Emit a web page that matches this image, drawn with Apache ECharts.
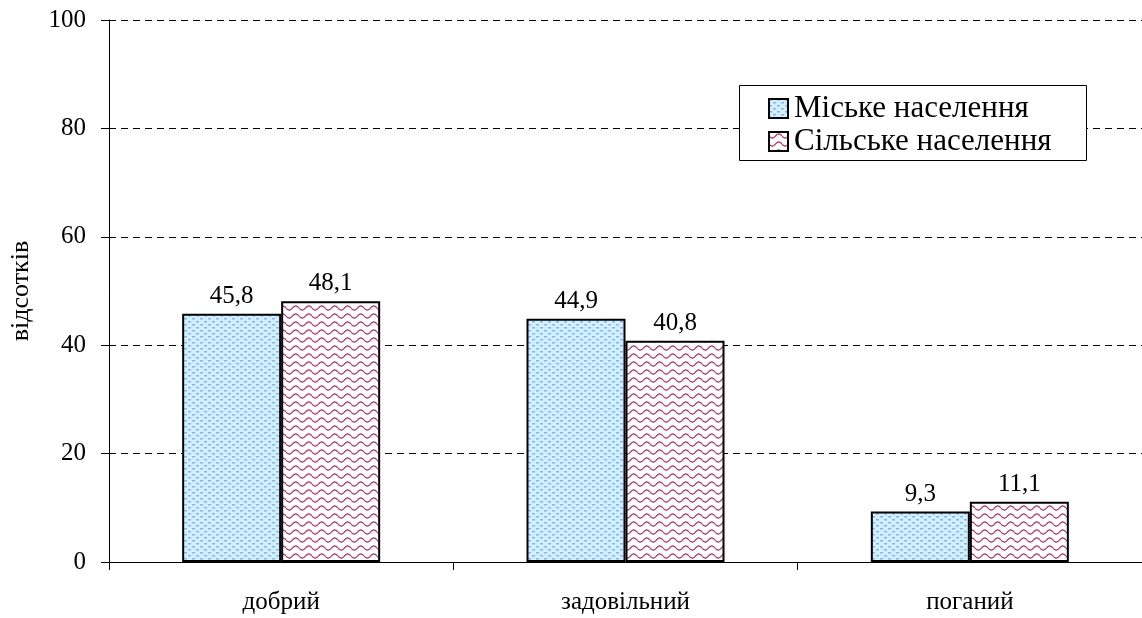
<!DOCTYPE html>
<html><head><meta charset="utf-8">
<script src="https://cdn.jsdelivr.net/npm/echarts@6/dist/echarts.min.js"></script>
<style>html,body{margin:0;padding:0;background:#fff}#c{width:1142px;height:618px}</style>
</head><body><div id="c"></div>
<script>
const categories = ['добрий', 'задовільний', 'поганий'];
const urbanValues = [45.8, 44.9, 9.3];
const ruralValues = [48.1, 40.8, 11.1];
const seriesNames = ['Міське населення', 'Сільське населення'];
const yTicks = [0, 20, 40, 60, 80, 100];

function dotPattern() {
  const c = document.createElement('canvas'); c.width = 8; c.height = 6;
  const g = c.getContext('2d');
  g.fillStyle = '#ccf2ff'; g.fillRect(0, 0, 8, 6);
  g.fillStyle = '#a0a8f0';
  g.fillRect(0, 0, 3, 1.5); g.fillRect(4, 3, 3, 1.5);
  return c;
}
function wavePattern() {
  const c = document.createElement('canvas'); c.width = 13; c.height = 8;
  const g = c.getContext('2d');
  g.fillStyle = '#ffffff'; g.fillRect(0, 0, 13, 8);
  g.strokeStyle = '#a84878'; g.lineWidth = 1.4;
  g.beginPath();
  for (let x = 0; x <= 13; x += 0.5) {
    const y = 4 + 2 * Math.sin(x / 13 * Math.PI * 2);
    if (x === 0) g.moveTo(x, y); else g.lineTo(x, y);
  }
  g.stroke();
  return c;
}
const fmt = v => String(v).replace('.', ',');
const chart = echarts.init(document.getElementById('c'));
const font = '"Liberation Serif", "Times New Roman", serif';
chart.setOption({
  animation: false,
  textStyle: { fontFamily: font },
  grid: { left: 108, right: 0, top: 20, bottom: 56, containLabel: false },
  graphic: [{
    type: 'rect', left: 739, top: 85, z: 10,
    shape: { width: 347, height: 75 },
    style: { fill: '#fff', stroke: '#000', lineWidth: 1 }
  }],
  legend: {
    orient: 'vertical', left: 739, top: 85, z: 20,
    padding: [8, 20, 8, 29], itemGap: 2,
    itemWidth: 19, itemHeight: 19, icon: 'rect',
    textStyle: { fontFamily: font, fontSize: 31, color: '#000', padding: [0, 0, 0, 1] },
    data: seriesNames
  },
  xAxis: {
    type: 'category', data: categories,
    axisLine: { lineStyle: { color: '#000', width: 1 } },
    axisTick: { show: true, alignWithLabel: false, length: 8, lineStyle: { color: '#000' } },
    axisLabel: { fontFamily: font, fontSize: 25, color: '#000', margin: 28 }
  },
  yAxis: {
    type: 'value', min: 0, max: 100, interval: 20,
    name: 'відсотків', nameLocation: 'middle', nameGap: 75, nameRotate: 90,
    nameTextStyle: { fontFamily: font, fontSize: 26, color: '#000' },
    axisLine: { show: true, lineStyle: { color: '#000' } },
    axisTick: { show: true, length: 8, lineStyle: { color: '#000' } },
    axisLabel: { fontFamily: font, fontSize: 25, color: '#000', margin: 23,
      formatter: v => yTicks.includes(v) ? String(v) : '' },
    splitLine: { show: true, lineStyle: { color: '#000', type: [7, 5], width: 1 } }
  },
  series: [
    { name: seriesNames[0], type: 'bar', data: urbanValues, barWidth: 99, barGap: '0%',
      itemStyle: { color: { image: dotPattern(), repeat: 'repeat' }, borderColor: '#000', borderWidth: 2 },
      label: { show: true, position: 'top', distance: 5, fontFamily: font, fontSize: 25, color: '#000', formatter: p => fmt(p.value) } },
    { name: seriesNames[1], type: 'bar', data: ruralValues, barWidth: 99, barGap: '0%',
      itemStyle: { color: { image: wavePattern(), repeat: 'repeat' }, borderColor: '#000', borderWidth: 2 },
      label: { show: true, position: 'top', distance: 5, fontFamily: font, fontSize: 25, color: '#000', formatter: p => fmt(p.value) } }
  ]
});
</script></body></html>
